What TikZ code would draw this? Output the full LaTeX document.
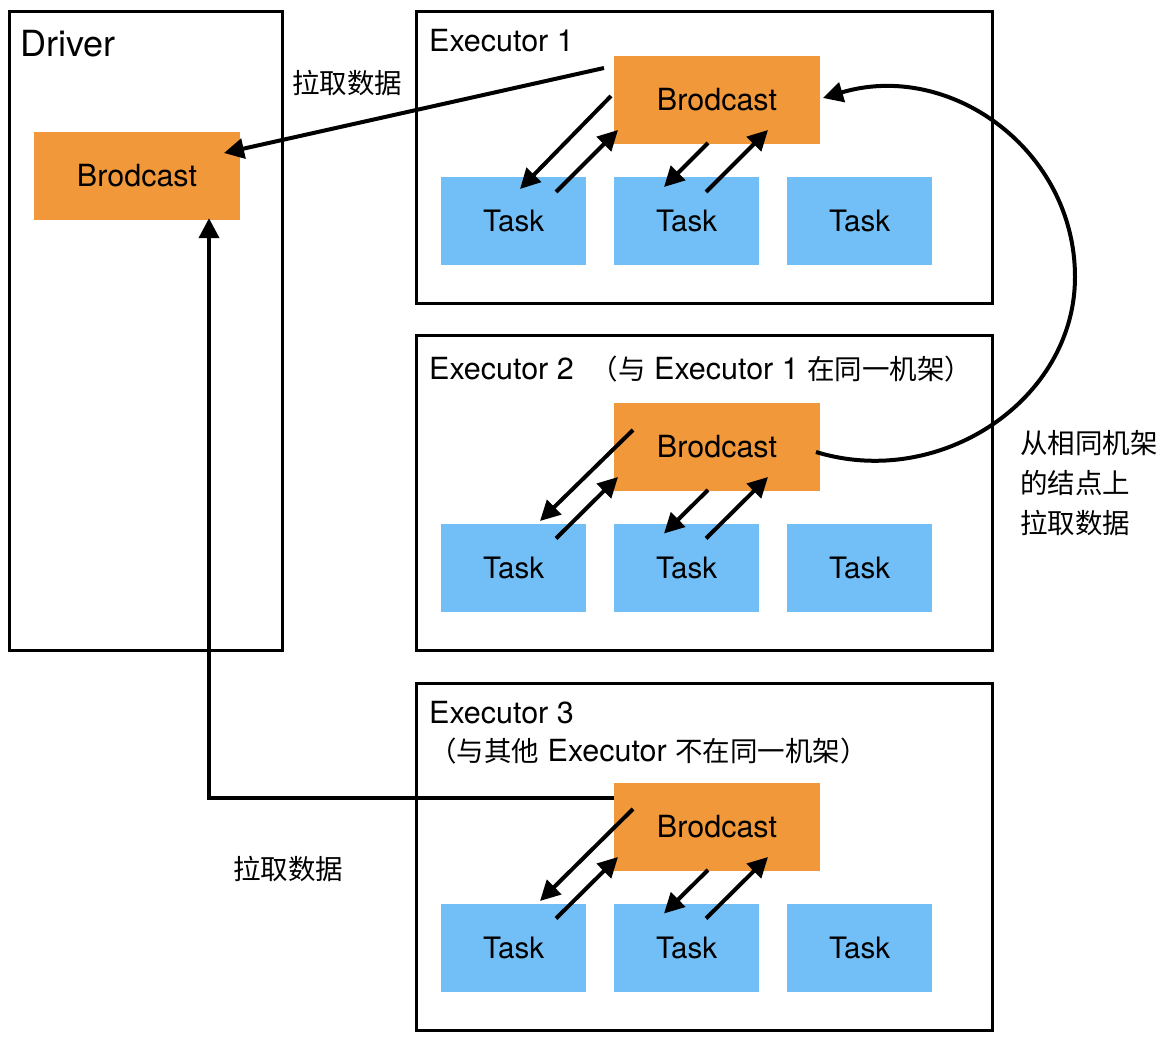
\documentclass[tikz,border=0pt]{standalone}
\usepackage{fontspec}
\setmainfont{TeX Gyre Heros}
\newfontfamily\cjk{Noto Sans CJK SC}
\usetikzlibrary{arrows.meta,calc}
\definecolor{bcorange}{HTML}{F0983A}
\definecolor{taskblue}{HTML}{72BFF7}
\tikzset{
    box/.style={draw,line width=3pt,anchor=north west,inner sep=0pt},
    bcbox/.style={fill=bcorange,minimum width=206pt,minimum height=88pt,inner sep=0pt,font=\fontsize{30.5}{36}\selectfont},
    taskbox/.style={fill=taskblue,minimum width=145pt,minimum height=88pt,inner sep=0pt,font=\fontsize{29.5}{36}\selectfont},
    lbl/.style={anchor=west,inner sep=0pt,font=\fontsize{30.5}{38}\selectfont},
    arr/.style={-{Triangle[length=20pt,width=20pt]},line width=4pt}
}
\begin{document}
\begin{tikzpicture}[x=1pt,y=-1pt]
        \useasboundingbox[fill=white] (0,0) rectangle (1176,1048);
        %boxes
        \node[box,minimum width=273pt,minimum height=639pt] (driver) at (8,10) {};
        \node[box,minimum width=576pt,minimum height=292pt] (ex1) at (415,10) {};
        \node[box,minimum width=576pt,minimum height=315pt] (ex2) at (415,334) {};
        \node[box,minimum width=576pt,minimum height=347pt] (ex3) at (415,682) {};
        %labels
        \node[lbl,font=\fontsize{36}{40}\selectfont] (driverlbl) at (20,44) {Driver};
        \node[lbl] (ex1lbl) at (429,41) {Executor 1};
        \node[lbl] (ex2lbl) at (429,369) {Executor 2 \ {\cjk\fontsize{27.5}{38}\selectfont （与} Executor 1 {\cjk\fontsize{27.5}{38}\selectfont 在同一机架）}};
        \node[lbl] (ex3lbl) at (429,713) {Executor 3};
        \node[lbl] (ex3sub) at (429,751) {{\cjk\fontsize{27.5}{38}\selectfont （与其他} Executor {\cjk\fontsize{27.5}{38}\selectfont 不在同一机架）}};
        %brodcast
        \node[bcbox] (bc0) at (137,176) {Brodcast};
        \node[bcbox] (bc1) at (717,100) {Brodcast};
        \node[bcbox] (bc2) at (717,447) {Brodcast};
        \node[bcbox] (bc3) at (717,827) {Brodcast};
        %tasks
        \foreach \i/\y in {1/221,2/567.5,3/947.5}
            \foreach \j/\x in {1/513.5,2/686.5,3/859.5}
                \node[taskbox] (task\i\j) at (\x,\y) {Task};
        %arrows between brodcast and tasks
        \foreach \i/\ax/\ay/\bx/\by in {1/-106/-4/6.5/-32,2/-84/-17/26.5/-46.5,3/-84/-18/26.5/-46.5}{
            \draw[arr] ($(bc\i.center)+(\ax,\ay)$) -- ($(task\i1.center)+(\bx,\by)$);
            \draw[arr] ($(task\i1.center)+(42.5,-29)$) -- ($(bc\i.center)+(-99,30)$);
            \draw[arr] ($(bc\i.center)+(-9,43)$) -- ($(task\i2.center)+(-22.5,-34)$);
            \draw[arr] ($(task\i2.center)+(19.5,-29)$) -- ($(bc\i.center)+(51,30)$);
        }
        %pull from driver
        \draw[arr] ($(bc1.center)+(-113,-32)$) -- ($(bc0.center)+(87,-23)$);
        \node[font=\cjk\fontsize{27.5}{32}\selectfont,inner sep=0pt] (pull1) at (347,83) {拉取数据};
        \draw[arr] ($(bc3.center)+(-103,-29)$) -| ($(bc0.south)+(72,-2)$);
        \node[font=\cjk\fontsize{27.5}{32}\selectfont,inner sep=0pt] (pull3) at (288,869) {拉取数据};
        %pull from same rack
        \draw[arr] ($(bc2.center)+(99,5)$) .. controls (940,490) and (1075,400) .. (1075,277)
            .. controls (1075,150) and (950,60) .. ($(bc1.center)+(106,-2)$);
        \node[anchor=north west,align=left,inner sep=0pt,font=\cjk\fontsize{27.5}{40}\selectfont] (rack) at (1020,430) {从相同机架\\的结点上\\拉取数据};
    \end{tikzpicture}
\end{document}
